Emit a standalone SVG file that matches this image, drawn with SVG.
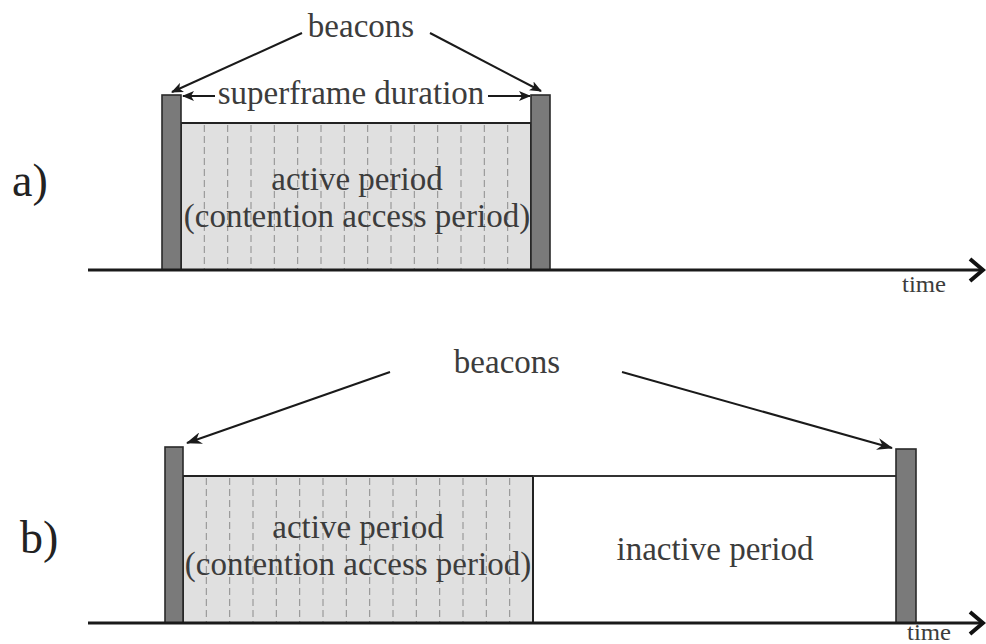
<svg xmlns="http://www.w3.org/2000/svg" width="986" height="644" viewBox="0 0 986 644">
  <defs>
    <style>
      .txt { font-family: "Liberation Serif", "Times New Roman", serif; fill: #3c3c3c; }
      .lbl { font-size: 33px; }
      .part { font-size: 46px; fill: #222; }
      .small { font-size: 23px; }
      .beacon { fill: #7a7a7a; stroke: #2a2a2a; stroke-width: 1.6; }
      .active { fill: #e0e0e0; stroke: #222; stroke-width: 2; }
      .frame { fill: none; stroke: #333; stroke-width: 2; }
      .slot { stroke: #8c8c8c; stroke-width: 1; stroke-dasharray: 7 4; }
      .axis { stroke: #1a1a1a; stroke-width: 3; fill: none; }
      .axis-head { stroke: #111; stroke-width: 4; fill: none; stroke-linejoin: miter; }
      .ptr { stroke: #1a1a1a; stroke-width: 2; fill: none; }
    </style>
    <marker id="head" viewBox="0 0 12 10" refX="11" refY="5" markerWidth="12" markerHeight="10" markerUnits="userSpaceOnUse" orient="auto">
      <path d="M0,0 L12,5 L0,10 L3,5 z" fill="#1a1a1a"/>
    </marker>
    <marker id="headB" viewBox="0 0 16 12" refX="15" refY="6" markerWidth="16" markerHeight="12" markerUnits="userSpaceOnUse" orient="auto">
      <path d="M0,0 L16,6 L0,12 L5,6 z" fill="#1a1a1a"/>
    </marker>
  </defs>

  <!-- Part a: beacon-enabled superframe without inactive period -->
  <g id="part-a">
    <text class="txt part" x="12" y="196">a)</text>

    <g id="a-active">
      <rect class="active" x="181" y="123" width="350" height="147"/>
      <g class="slots">
        <line class="slot" x1="204.3" y1="125" x2="204.3" y2="269"/>
        <line class="slot" x1="227.7" y1="125" x2="227.7" y2="269"/>
        <line class="slot" x1="251" y1="125" x2="251" y2="269"/>
        <line class="slot" x1="274.3" y1="125" x2="274.3" y2="269"/>
        <line class="slot" x1="297.7" y1="125" x2="297.7" y2="269"/>
        <line class="slot" x1="321" y1="125" x2="321" y2="269"/>
        <line class="slot" x1="344.3" y1="125" x2="344.3" y2="269"/>
        <line class="slot" x1="367.7" y1="125" x2="367.7" y2="269"/>
        <line class="slot" x1="391" y1="125" x2="391" y2="269"/>
        <line class="slot" x1="414.3" y1="125" x2="414.3" y2="269"/>
        <line class="slot" x1="437.7" y1="125" x2="437.7" y2="269"/>
        <line class="slot" x1="461" y1="125" x2="461" y2="269"/>
        <line class="slot" x1="484.3" y1="125" x2="484.3" y2="269"/>
        <line class="slot" x1="507.7" y1="125" x2="507.7" y2="269"/>
      </g>
      <text class="txt lbl" x="357" y="190" text-anchor="middle">active period</text>
      <text class="txt lbl" x="357" y="227" text-anchor="middle">(contention access period)</text>
    </g>

    <g id="a-beacon-1"><rect class="beacon" x="162" y="95" width="19" height="175"/></g>
    <g id="a-beacon-2"><rect class="beacon" x="531" y="95" width="19" height="175"/></g>

    <g id="a-duration">
      <text class="txt lbl" x="351" y="104" text-anchor="middle">superframe duration</text>
    </g>
    <g id="a-beacons-label">
      <text class="txt lbl" x="361" y="37" text-anchor="middle">beacons</text>
    </g>
    <g id="a-time"><text class="txt small" x="902" y="292" textLength="44" lengthAdjust="spacingAndGlyphs">time</text></g>
  </g>

  <!-- Part b: superframe followed by an inactive period -->
  <g id="part-b">
    <text class="txt part" x="20" y="553">b)</text>

    <g id="b-active">
      <rect class="active" x="183" y="476" width="350" height="147"/>
      <g class="slots">
        <line class="slot" x1="206.3" y1="478" x2="206.3" y2="622"/>
        <line class="slot" x1="229.7" y1="478" x2="229.7" y2="622"/>
        <line class="slot" x1="253" y1="478" x2="253" y2="622"/>
        <line class="slot" x1="276.3" y1="478" x2="276.3" y2="622"/>
        <line class="slot" x1="299.7" y1="478" x2="299.7" y2="622"/>
        <line class="slot" x1="323" y1="478" x2="323" y2="622"/>
        <line class="slot" x1="346.3" y1="478" x2="346.3" y2="622"/>
        <line class="slot" x1="369.7" y1="478" x2="369.7" y2="622"/>
        <line class="slot" x1="393" y1="478" x2="393" y2="622"/>
        <line class="slot" x1="416.3" y1="478" x2="416.3" y2="622"/>
        <line class="slot" x1="439.7" y1="478" x2="439.7" y2="622"/>
        <line class="slot" x1="463" y1="478" x2="463" y2="622"/>
        <line class="slot" x1="486.3" y1="478" x2="486.3" y2="622"/>
        <line class="slot" x1="509.7" y1="478" x2="509.7" y2="622"/>
      </g>
      <text class="txt lbl" x="358" y="538" text-anchor="middle">active period</text>
      <text class="txt lbl" x="358" y="575" text-anchor="middle">(contention access period)</text>
    </g>

    <g id="b-inactive">
      <path class="frame" d="M533,476 H896"/>
      <text class="txt lbl" x="715" y="560" text-anchor="middle">inactive period</text>
    </g>

    <g id="b-beacon-1"><rect class="beacon" x="165" y="447" width="18" height="176"/></g>
    <g id="b-beacon-2"><rect class="beacon" x="896" y="449" width="20" height="174"/></g>

    <g id="b-beacons-label">
      <text class="txt lbl" x="507" y="373" text-anchor="middle">beacons</text>
    </g>
    <g id="b-time"><text class="txt small" x="907" y="640" font-size="20" textLength="44" lengthAdjust="spacingAndGlyphs">time</text></g>
  </g>

  <!-- Connectors: time axes, duration arrow and beacon pointers -->
  <g id="connectors">
    <path class="axis" d="M88,270 H982"/>
    <path class="axis-head" d="M970,259 L983,270 L970,281"/>
    <path class="axis" d="M88,623 H982"/>
    <path class="axis-head" d="M970,612 L983,623 L970,634"/>

    <line class="ptr" x1="215" y1="96" x2="183" y2="96" marker-end="url(#head)"/>
    <line class="ptr" x1="488" y1="96" x2="530" y2="96" marker-end="url(#head)"/>

    <line class="ptr" x1="302" y1="33" x2="172" y2="92" marker-end="url(#head)"/>
    <line class="ptr" x1="430" y1="33" x2="541" y2="91" marker-end="url(#head)"/>

    <line class="ptr" x1="390" y1="372" x2="187" y2="443" stroke-width="2.5" marker-end="url(#headB)"/>
    <line class="ptr" x1="622" y1="372" x2="892" y2="448" stroke-width="2.5" marker-end="url(#headB)"/>
  </g>
</svg>
